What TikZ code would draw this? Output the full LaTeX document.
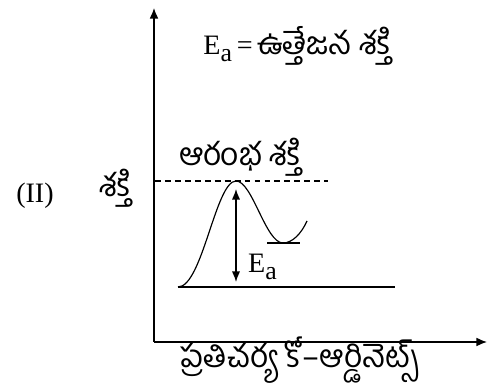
\documentclass[tikz,border=0pt]{standalone}
\usepackage{fontspec}
\setmainfont{Liberation Serif}
\newfontfamily\telugu[Script=Telugu]{Hind Guntur}
\usetikzlibrary{arrows.meta}

\newcommand{\Ea}{E\raisebox{-6pt}{\fontsize{22}{24}\selectfont a}}

\tikzset{
    axis/.style={line width=1.1pt, -{Latex[length=9pt,width=7.5pt]}},
    level/.style={line width=1pt},
    label/.style={inner sep=0pt, font=\fontsize{24}{28}\selectfont},
    tlabel/.style={inner sep=0pt, font=\fontsize{27}{32}\selectfont\telugu}
}

\begin{document}
\begin{tikzpicture}
    % Variables for the frame
    \def\xmax{10.02}
    \def\ymax{10.26}

    \useasboundingbox (-4.62,-1.5) rectangle (\xmax,\ymax);

    % Axes
    \coordinate (origin) at (0,0);
    \coordinate (ytop) at (0,10.02);
    \coordinate (xend) at (9.99,0);
    \draw[axis] (origin) -- (ytop);
    \draw[axis] (origin) -- (xend);

    % Points of the energy profile
    \coordinate (start) at (0.72,1.65);
    \coordinate (peak) at (2.46,4.83);
    \coordinate (valley) at (3.87,2.97);
    \coordinate (finish) at (4.59,3.63);

    % Reference lines
    \coordinate (base end) at (7.23,1.65);
    \coordinate (dash start) at (0.03,4.83);
    \coordinate (dash end) at (5.22,4.83);
    \coordinate (low left) at (3.39,2.97);
    \coordinate (low right) at (4.38,2.97);
    \draw[level] (start) -- (base end);
    \draw[level, dashed, dash pattern=on 5pt off 3.5pt] (dash start) -- (dash end);
    \draw[level] (low left) -- (low right);

    % The curve
    \draw[level] (start) .. controls (1.45,1.65) and (1.85,4.83) .. (peak)
        .. controls (2.95,4.83) and (3.35,2.97) .. (valley)
        .. controls (4.15,2.97) and (4.42,3.25) .. (finish);

    % Activation energy arrow
    \coordinate (ea top) at (2.46,4.59);
    \coordinate (ea bottom) at (2.46,1.80);
    \draw[level, {Latex[length=9pt,width=7pt]}-{Latex[length=9pt,width=7pt]}] (ea top) -- (ea bottom);

    % Labels
    \node[label, anchor=west] (ea) at (2.82,2.25) {\Ea};
    \node[tlabel] (start energy) at (2.58,5.55) {ఆరంభ శక్తి};
    \node[label] (title) at (4.29,8.88) {\Ea\,=\,{\fontsize{27}{32}\selectfont\telugu ఉత్తేజన శక్తి}};
    \node[tlabel] (xlabel) at (4.38,-0.55) {ప్రతిచర్య కో–ఆర్డినెట్స్};
    \node[tlabel] (ylabel) at (-1.17,4.62) {శక్తి};
    \node[label] (part) at (-3.57,4.38) {(II)};
\end{tikzpicture}
\end{document}
